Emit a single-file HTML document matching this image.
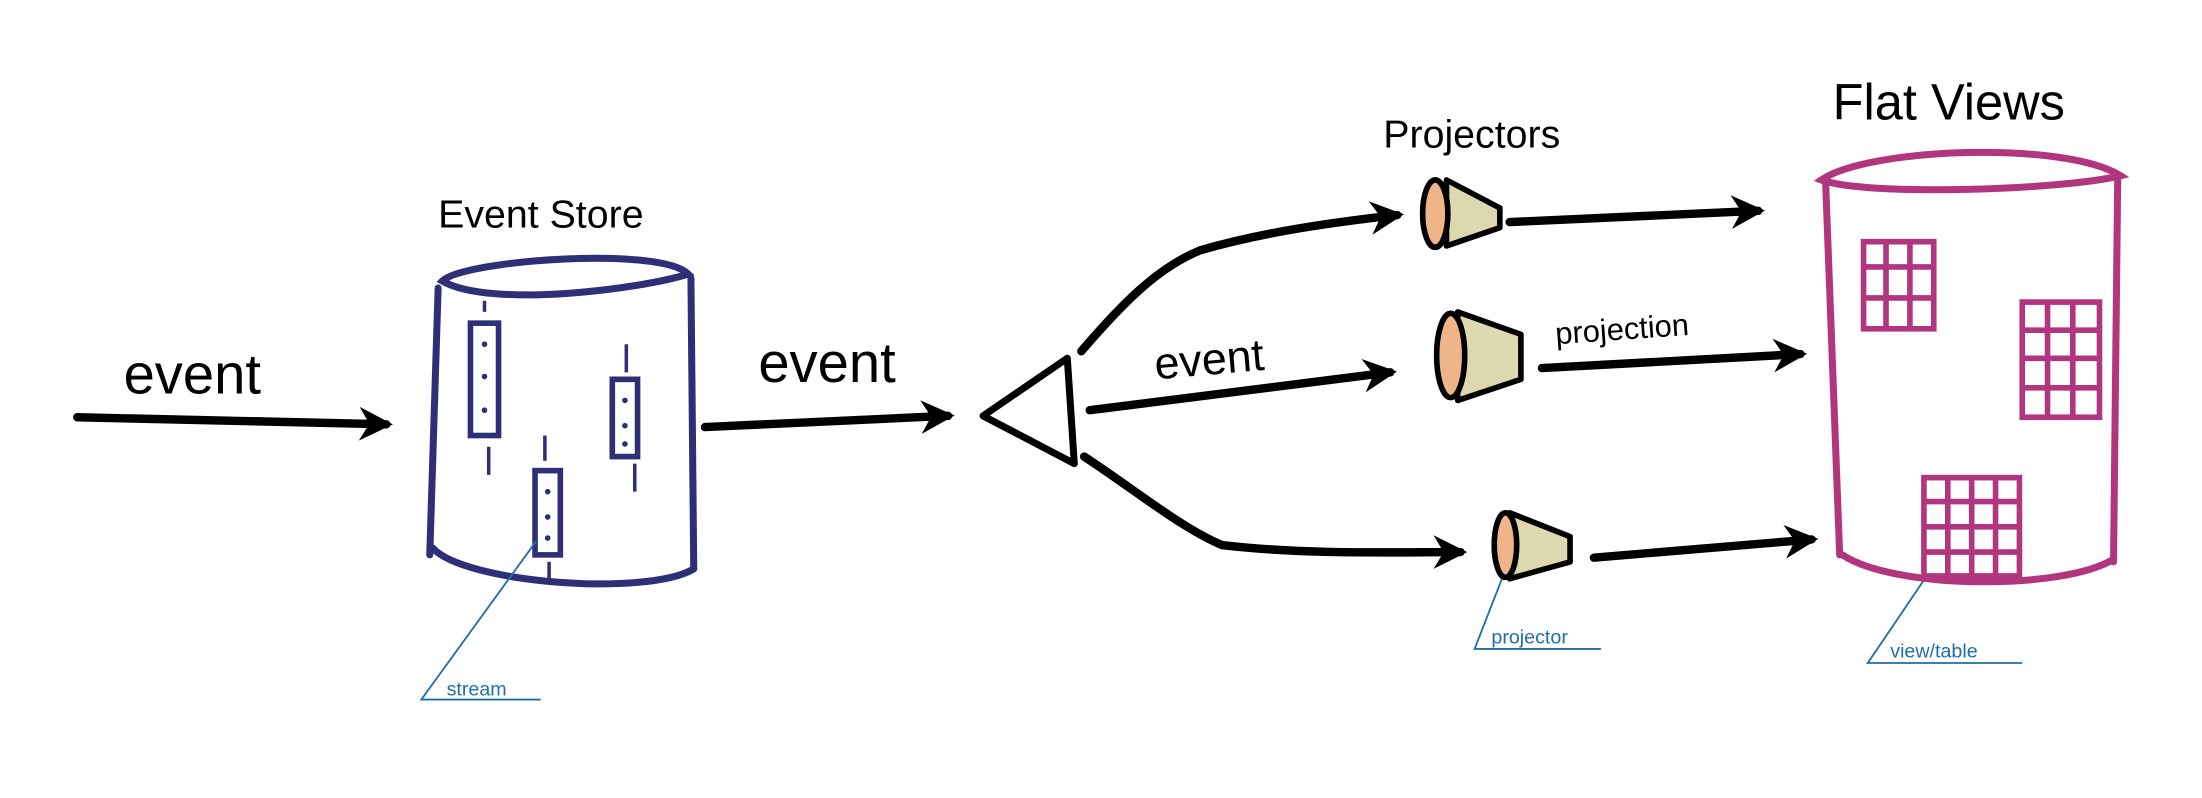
<!DOCTYPE html>
<html><head><style>
html,body{margin:0;padding:0;background:#fff;}
svg{display:block;}
text{font-family:"Liberation Sans",sans-serif;}
</style></head><body>
<svg width="2202" height="798" viewBox="0 0 1568 568" xmlns="http://www.w3.org/2000/svg">
<defs>
<marker id="ah" viewBox="0 0 10 10" refX="8" refY="5" markerWidth="4" markerHeight="4" orient="auto">
<path d="M0,0 L10,5 L0,10 L3,5 Z" fill="#000"/></marker>
</defs>
<rect width="1568" height="568" fill="#fff"/>
<g fill="none" stroke="#000" stroke-width="6" stroke-linecap="round" marker-end="url(#ah)">
<path d="M55,297 L275,302"/>
<path d="M502,304 L675,296"/>
<path d="M770,250 C800,215 825,190 855,178 C900,165 950,158 995,153"/>
<path d="M776,292 L990,265"/>
<path d="M772,325 C810,350 840,375 870,388 C930,395 990,393 1040,393"/>
<path d="M1075,158 L1252,150"/>
<path d="M1098,262 L1282,252"/>
<path d="M1135,397 L1290,384"/>
</g>
<path d="M700,296 L760,255 L765,330 Z" fill="none" stroke="#000" stroke-width="5" stroke-linejoin="round"/>
<g font-size="40" fill="#000">
<text x="88" y="280">event</text>
<text x="540" y="272">event</text>
<text x="823" y="270" font-size="32" transform="rotate(-5 823 270)">event</text>
</g>
<text x="312" y="162" font-size="28" fill="#000">Event Store</text>
<text x="985" y="105" font-size="28" fill="#000">Projectors</text>
<text x="1305" y="85" font-size="36" fill="#000">Flat Views</text>
<text x="1108" y="245" font-size="22" fill="#000" transform="rotate(-4 1108 245)">projection</text>
<!-- event store -->
<g fill="none" stroke="#2f2f78" stroke-width="5" stroke-linecap="round">
<path d="M315,200 C330,185 470,175 490,195 C460,205 350,220 315,200 Z"/>
<path d="M312,205 L306,395"/>
<path d="M492,198 L494,405"/>
<path d="M308,390 C330,415 460,425 494,405"/>
</g>
<g fill="none" stroke="#2f2f78" stroke-width="4">
<rect x="335" y="230" width="20" height="80"/>
<rect x="436" y="270" width="18" height="55"/>
<rect x="381" y="335" width="18" height="60"/>
</g>
<g fill="#2f2f78">
<circle cx="345" cy="245" r="2"/><circle cx="345" cy="268" r="2"/><circle cx="345" cy="292" r="2"/>
<circle cx="445" cy="285" r="2"/><circle cx="445" cy="303" r="2"/><circle cx="445" cy="316" r="2"/>
<circle cx="390" cy="350" r="2"/><circle cx="390" cy="368" r="2"/><circle cx="390" cy="383" r="2"/>
</g>
<g fill="none" stroke="#2f2f78" stroke-width="2.5">
<path d="M345,222 v-8 M348,318 v20 M446,245 v20 M388,310 v18 M452,330 v20 M391,400 v15"/>
</g>
<g stroke="#1f6fa8" stroke-width="1.3" fill="none">
<path d="M382,385 L300,498 L385,498"/>
<path d="M1075,398 L1050,462 L1140,462"/>
<path d="M1372,410 L1330,472 L1440,472"/>
</g>
<g fill="#1f6fa8" font-size="14">
<text x="318" y="495">stream</text>
<text x="1062" y="458">projector</text>
<text x="1346" y="468">view/table</text>
</g>
<!-- projectors -->
<g stroke="#000" stroke-width="4" stroke-linejoin="round">
<path d="M1030,128 L1068,148 L1068,162 L1030,175 Z" fill="#ddd8b0"/>
<ellipse cx="1022" cy="152" rx="9" ry="24" fill="#efb488"/>
<path d="M1038,222 L1083,238 L1083,270 L1038,285 Z" fill="#ddd8b0"/>
<ellipse cx="1033" cy="253" rx="10" ry="30" fill="#efb488"/>
<path d="M1075,365 L1118,382 L1118,400 L1075,412 Z" fill="#ddd8b0"/>
<ellipse cx="1072" cy="388" rx="8" ry="23" fill="#efb488"/>
</g>
<!-- flat views -->
<g fill="none" stroke="#b2357f" stroke-width="5" stroke-linecap="round">
<path d="M1297,128 C1330,105 1470,100 1510,125 C1470,135 1330,140 1297,128 Z"/>
<path d="M1300,130 L1310,395"/>
<path d="M1508,125 L1505,400"/>
<path d="M1312,395 C1350,420 1470,420 1505,398"/>
</g>
<g fill="none" stroke="#b2357f" stroke-width="4">
<rect x="1327" y="172" width="50" height="62"/>
<path d="M1327,190 h50 M1327,212 h50 M1343,172 v62 M1360,172 v62"/>
<rect x="1440" y="215" width="55" height="82"/>
<path d="M1440,235 h55 M1440,255 h55 M1440,276 h55 M1458,215 v82 M1476,215 v82"/>
<rect x="1370" y="340" width="68" height="70"/>
<path d="M1370,357 h68 M1370,375 h68 M1370,393 h68 M1387,340 v70 M1404,340 v70 M1421,340 v70"/>
</g>
</svg>
</body></html>
